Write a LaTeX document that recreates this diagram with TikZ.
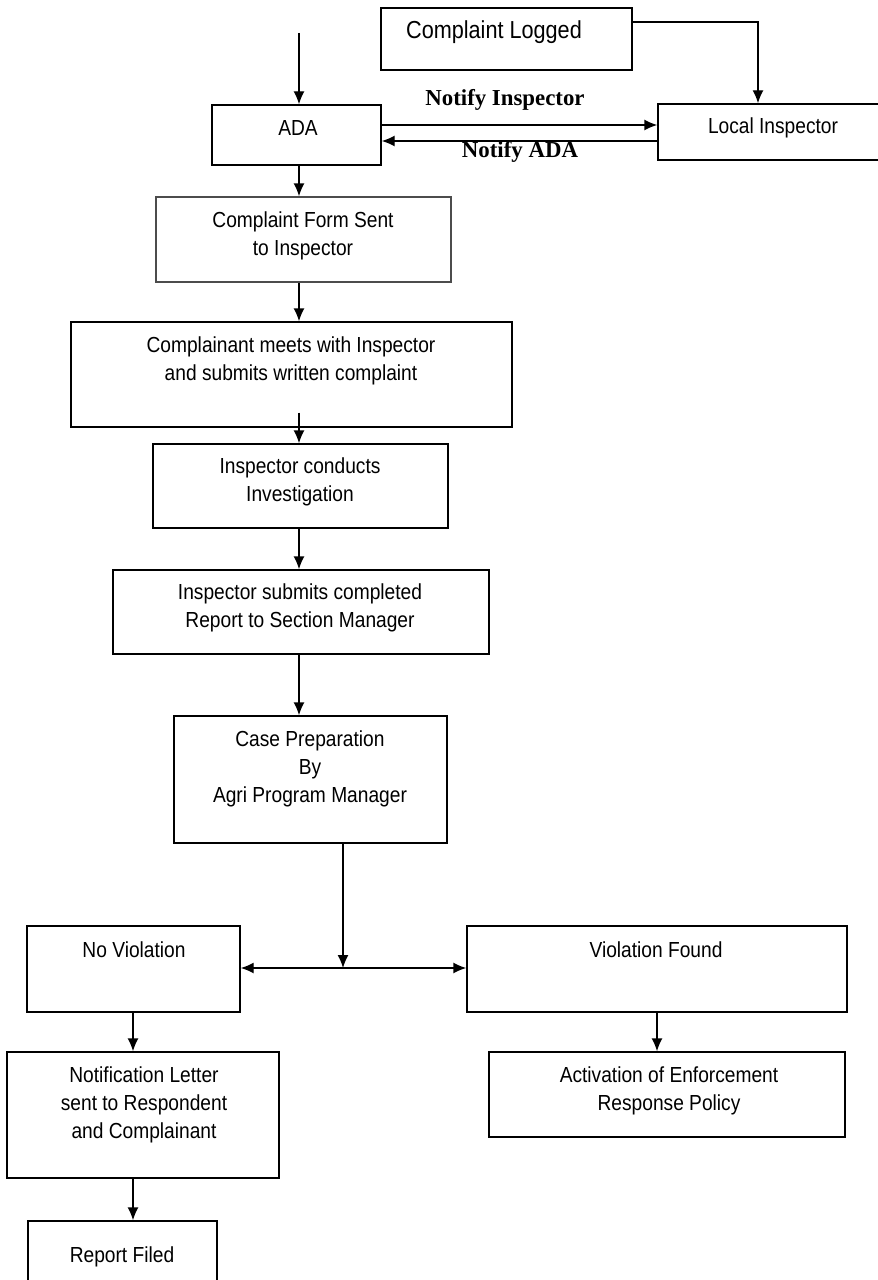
\documentclass[tikz,border=0pt]{standalone}
\usepackage{fontspec}
\setmainfont{Liberation Sans}[FakeStretch=0.88]
\newfontfamily\seriffont{Liberation Serif}
\usepackage{tikz}
\usetikzlibrary{arrows.meta,positioning,fit}
\tikzset{
fc_box/.style = {rectangle, draw=black, line width=0.8pt, inner sep=0pt},% flow box
fc_txt/.style = {align=center, inner sep=0pt, font=\fontsize{12.4}{16}\selectfont},% text in a box
fc_big/.style = {fc_txt, font=\fontsize{14}{16}\selectfont},
fc_lbl/.style = {inner sep=0pt, font=\fontsize{13}{15}\selectfont\seriffont\bfseries},% arrow label
fc_arr/.style = {line width=0.8pt, -{Latex[length=2.6mm,width=2.2mm]}}
}

\begin{document}
\begin{tikzpicture}[x=0.02cm, y=-0.02cm]
  \useasboundingbox (0,0) rectangle (878,1280);
  % boxes
  \node [fc_box, fit={(381,8) (632,70)}] (logged) {};
  \node [fc_big] (logged_t) at (494,32) {Complaint Logged};
  \node [fc_box, fit={(212,105) (381,165)}] (ada) {};
  \node [fc_txt] (ada_t) at (298,128) {ADA};
  \node [fc_box, fit={(658,104) (884,160)}] (local) {};
  \node [fc_txt] (local_t) at (773,128) {Local Inspector};
  \node [fc_box, draw=black!70, fit={(156,197) (451,282)}] (form) {};
  \node [fc_txt] (form_t) at (303,236) {Complaint Form Sent\\to Inspector};
  \node [fc_box, fit={(71,322) (512,427)}] (meets) {};
  \node [fc_txt] (meets_t) at (291,361) {Complainant meets with Inspector\\and submits written complaint};
  \node [fc_box, fit={(153,444) (448,528)}] (invest) {};
  \node [fc_txt] (invest_t) at (300,482) {Inspector conducts\\Investigation};
  \node [fc_box, fit={(113,570) (489,654)}] (report) {};
  \node [fc_txt] (report_t) at (300,608) {Inspector submits completed\\Report to Section Manager};
  \node [fc_box, fit={(174,716) (447,843)}] (case) {};
  \node [fc_txt] (case_t) at (310,769) {Case Preparation\\By\\Agri Program Manager};
  \node [fc_box, fit={(27,926) (240,1012)}] (novio) {};
  \node [fc_txt] (novio_t) at (134,950) {No Violation};
  \node [fc_box, fit={(467,926) (847,1012)}] (vio) {};
  \node [fc_txt] (vio_t) at (656,950) {Violation Found};
  \node [fc_box, fit={(7,1052) (279,1178)}] (letter) {};
  \node [fc_txt] (letter_t) at (144,1105) {Notification Letter\\sent to Respondent\\and Complainant};
  \node [fc_box, fit={(489,1052) (845,1137)}] (policy) {};
  \node [fc_txt] (policy_t) at (669,1091) {Activation of Enforcement\\Response Policy};
  \node [fc_box, fit={(28,1221) (217,1300)}] (filed) {};
  \node [fc_txt] (filed_t) at (122,1257) {Report Filed};

  % top part
  \coordinate (start) at (299,33);
  \draw [fc_arr] (start) -- (start |- ada.north);
  \coordinate (turn) at (758,22);
  \draw [fc_arr] (logged.east |- turn) -- (turn) -- (turn |- local.north);
  \path ([yshift=0.2cm]ada.east) coordinate (ni_a);
  \path ([yshift=-0.12cm]ada.east) coordinate (na_a);
  \draw [fc_arr] (ni_a) -- (ni_a -| local.west);
  \draw [fc_arr] (na_a -| local.west) -- (na_a);
  \node [fc_lbl] (ni_l) at (505,100) {Notify Inspector};
  \node [fc_lbl] (na_l) at (520,152) {Notify ADA};

  % main column
  \draw [fc_arr] (ada.south -| start) -- (form.north -| start);
  \draw [fc_arr] (form.south -| start) -- (meets.north -| start);
  \draw [fc_arr] ([yshift=0.3cm]meets.south -| start) -- (invest.north -| start);
  \draw [fc_arr] (invest.south -| start) -- (report.north -| start);
  \draw [fc_arr] (report.south -| start) -- (case.north -| start);

  % split
  \coordinate (split) at (343,968);
  \draw [fc_arr] (case.south -| split) -- (split);
  \draw [fc_arr] (split) -- (split -| novio.east);
  \draw [fc_arr] (split) -- (split -| vio.west);

  % lower branches
  \coordinate (left) at (133,0);
  \coordinate (right) at (657,0);
  \draw [fc_arr] (novio.south -| left) -- (letter.north -| left);
  \draw [fc_arr] (letter.south -| left) -- (filed.north -| left);
  \draw [fc_arr] (vio.south -| right) -- (policy.north -| right);
\end{tikzpicture}
\end{document}
